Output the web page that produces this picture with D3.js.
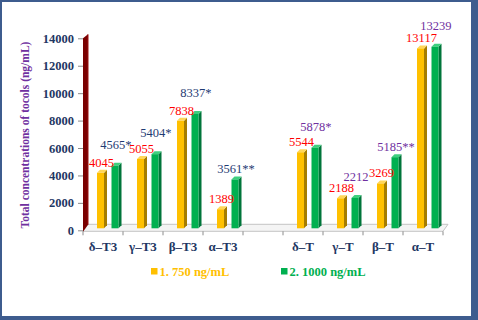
<!DOCTYPE html>
<html>
<head>
<meta charset="utf-8">
<script src="https://cdn.jsdelivr.net/npm/d3@7"></script>
<style>
  body { margin: 0; background: #fff; }
  svg { display: block; font-family: "Liberation Serif", "Times New Roman", serif; }
</style>
</head>
<body>
<svg id="chart" width="478" height="320"></svg>
<script>
var categories = ["δ–T3", "γ–T3", "β–T3", "α–T3", "", "δ–T", "γ–T", "β–T", "α–T"]
var dose750 = [4045, 5055, 7838, 1389, null, 5544, 2188, 3269, 13117]
var dose1000 = [4565, 5404, 8337, 3561, null, 5878, 2212, 5185, 13239]
var marks1000 = ["*", "*", "*", "**", "", "*", "", "**", ""]
var seriesNames = ["1. 750 ng/mL", "2. 1000 ng/mL"]
var yTicks = [0, 2000, 4000, 6000, 8000, 10000, 12000, 14000]

var svg = d3.select("#chart")
var W = 478, H = 320
var plotLeft = 83, plotRight = 443, yZero = 230.3, yTop = 38.3
var depthX = 5, depthY = 7

// frame
svg.append("rect").attr("x", 0).attr("y", 0).attr("width", W).attr("height", H).attr("fill", "#3e5c8e")
svg.append("rect").attr("x", 2).attr("y", 2).attr("width", 469).attr("height", 314).attr("fill", "#fff")

var x = d3.scaleBand().domain(d3.range(categories.length)).range([plotLeft, plotRight])
var xSub = d3.scaleBand().domain([0, 1]).range([14, 35.5]).paddingInner(0.517)
var y = d3.scaleLinear().domain([0, 14000]).range([yZero, yTop])

// floor
svg.append("polygon")
    .attr("points", [[plotLeft, yZero + 1], [plotLeft + depthX, yZero + 1 - depthY],
        [plotRight + depthX, yZero + 1 - depthY], [plotRight, yZero + 1]].join(" "))
    .attr("fill", "#f4f4f4").attr("stroke", "#c4c4c4").attr("stroke-width", 1)

// back wall (dark red)
svg.append("polygon")
    .attr("points", [[plotLeft, yZero + 1.5], [plotLeft, yTop], [plotLeft + depthX, yTop - 4],
        [plotLeft + depthX, yZero + 1.5 - depthY]].join(" "))
    .attr("fill", "#7a0000")
svg.append("line").attr("x1", plotLeft + depthX).attr("x2", plotLeft + depthX)
    .attr("y1", yTop - 4).attr("y2", yZero - 5.5).attr("stroke", "#9a1010").attr("stroke-width", 1)

// y axis ticks + labels
var yAxis = d3.axisLeft(y).tickValues(yTicks).tickFormat(d3.format("d")).tickSize(5).tickPadding(4)
var gy = svg.append("g").attr("transform", `translate(${plotLeft},0)`).call(yAxis)
gy.select(".domain").remove()
gy.selectAll(".tick line").attr("stroke", "#8c8c8c")
gy.selectAll(".tick text")
    .attr("font-family", "Liberation Serif, serif").attr("font-size", 12.5)
    .attr("font-weight", "bold").attr("fill", "#1f3864")

// x axis ticks at band edges
var xEdges = d3.range(categories.length + 1).map(i => plotLeft + i * x.step())
svg.selectAll(".xtick").data(xEdges).enter().append("line")
    .attr("x1", d => d).attr("x2", d => d)
    .attr("y1", yZero + 1).attr("y2", yZero + 5)
    .attr("stroke", "#8c8c8c")
svg.selectAll(".xlab").data(categories).enter().append("text")
    .attr("x", (d, i) => x(i) + x.bandwidth() / 2)
    .attr("y", 251)
    .attr("text-anchor", "middle")
    .attr("font-size", 13).attr("font-weight", "bold").attr("fill", "#1f3864")
    .text(d => d)

// bars
var faces = [
    { front: "#ffc000", side: "#a57c00", top: "#ffd659" },
    { front: "#00b050", side: "#00753a", top: "#3fcf7e" }
]
var bw = xSub.bandwidth(), sd = 3, lift = 2
var gBars = svg.append("g")
var rows = []
categories.forEach((c, i) => {
    if (dose750[i] == null) return
    rows.push({ i: i, s: 0, v: dose750[i] })
    rows.push({ i: i, s: 1, v: dose1000[i] })
})
rows.forEach(r => {
    var x0 = x(r.i) + xSub(r.s), yt = y(r.v) - lift, yb = yZero - lift
    var f = faces[r.s]
    gBars.append("polygon")
        .attr("points", [[x0 + bw, yb], [x0 + bw, yt], [x0 + bw + sd, yt - sd], [x0 + bw + sd, yb - sd]].join(" "))
        .attr("fill", f.side)
    gBars.append("polygon")
        .attr("points", [[x0, yt], [x0 + sd, yt - sd], [x0 + bw + sd, yt - sd], [x0 + bw, yt]].join(" "))
        .attr("fill", f.top)
    gBars.append("rect")
        .attr("x", x0).attr("y", yt).attr("width", bw).attr("height", yb - yt)
        .attr("fill", f.front)
})

// value labels
rows.forEach(r => {
    var x0 = x(r.i) + xSub(r.s), yt = y(r.v) - lift
    var txt = r.s === 0 ? String(r.v) : r.v + marks1000[r.i]
    var raised = r.s === 1 && (dose1000[r.i] - dose750[r.i]) < 1000
    var color = r.s === 0 ? "#ff0000" : (r.i < 4 ? "#1f3b73" : "#7030a0")
    svg.append("text")
        .attr("x", x0 + bw / 2 + 1)
        .attr("y", yt - (raised ? 17 : 6))
        .attr("text-anchor", "middle")
        .attr("font-size", 12.5)
        .attr("fill", color)
        .text(txt)
})

// y title
svg.append("text")
    .attr("transform", "translate(29,135) rotate(-90)")
    .attr("text-anchor", "middle")
    .attr("font-size", 11.5).attr("font-weight", "bold").attr("fill", "#7030a0")
    .text("Total concentrations of tocols (ng/mL)")

// legend
var legendX = [151, 281], legendCol = ["#ffc000", "#00b050"]
seriesNames.forEach((n, k) => {
    svg.append("rect").attr("x", legendX[k]).attr("y", 268).attr("width", 6.5).attr("height", 6.5)
        .attr("fill", legendCol[k])
    svg.append("text").attr("x", legendX[k] + 8.5).attr("y", 276)
        .attr("font-size", 12.5).attr("font-weight", "bold").attr("fill", legendCol[k])
        .text(n)
})
</script>
</body>
</html>
